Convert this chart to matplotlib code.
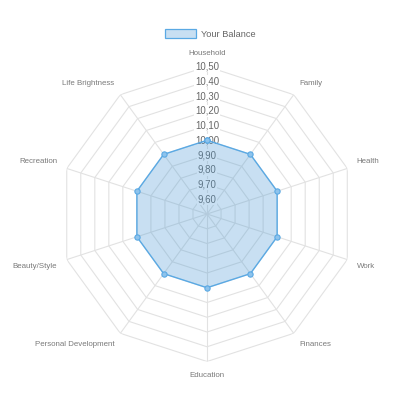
import numpy as np
import matplotlib
matplotlib.use("Agg")
import matplotlib.pyplot as plt

plt.rcParams['font.family'] = ['Liberation Sans', 'DejaVu Sans']

# data
categories = ["Household", "Family", "Health", "Work", "Finances", "Education",
              "Personal Development", "Beauty/Style", "Recreation", "Life Brightness"]
values = [10, 10, 10, 10, 10, 10, 10, 10, 10, 10]
ticks = [9.6, 9.7, 9.8, 9.9, 10.0, 10.1, 10.2, 10.3, 10.4, 10.5]
r_min, r_max = 9.5, 10.5

line_col = '#5aa9e4'
fill_col = '#4a98d4'
grid_col = '#e2e2e2'
tick_col = '#666666'
label_col = '#7a7a7a'

fig = plt.figure(figsize=(4.2, 4.16), dpi=100)
ax = fig.add_axes([0.1417, 0.131, 0.7024, 0.7091], projection='polar')
ax.set_theta_zero_location('N')
ax.set_theta_direction(-1)
ax.set_ylim(r_min, r_max)
ax.grid(False)
ax.spines['polar'].set_visible(False)
ax.set_xticks([])
ax.set_yticks([])
ax.patch.set_alpha(0)

n = len(categories)
theta = np.arange(n) * 2 * np.pi / n
theta_closed = np.append(theta, theta[0])

# polygon rings
for t in ticks:
    ax.plot(theta_closed, [t] * (n + 1), color=grid_col, lw=0.8, zorder=1)
# spokes
for th in theta:
    ax.plot([th, th], [r_min, r_max], color=grid_col, lw=0.8, zorder=1)

# tick labels on the top spoke
for t in ticks:
    ax.text(0, t, f"{t:.2f}".replace('.', ','), ha='center', va='center',
            fontsize=6.9, color=tick_col, zorder=2,
            bbox=dict(boxstyle='square,pad=0.1', fc='white', ec='none'))

# point labels
lab_r = r_max + (r_max - r_min) * 10 / 147.5
for th, name in zip(theta, categories):
    s, c = np.sin(th), np.cos(th)
    if abs(s) < 1e-6:
        ha = 'center'
    elif s > 0:
        ha = 'left'
    else:
        ha = 'right'
    va = 'bottom' if c > 0 else 'top'
    ax.text(th, lab_r, name, ha=ha, va=va, fontsize=5.7, color=label_col)

# data
vals_closed = values + values[:1]
ax.fill(theta_closed, vals_closed, color=fill_col, alpha=0.3, lw=0, zorder=3)
ax.plot(theta_closed, vals_closed, color=line_col, lw=1.0, zorder=4,
        marker='o', markersize=3.8, markerfacecolor='#8ec3ec',
        markeredgecolor=line_col, markeredgewidth=0.8)

# legend
box = plt.Rectangle((0, 0), 1, 1, fc=(0.29, 0.596, 0.831, 0.3), ec=line_col, lw=0.9)
fig.legend([box], ["Your Balance"], loc='center', bbox_to_anchor=(0.5, 0.918),
           frameon=False, fontsize=6.7, handlelength=3.4, handleheight=1.0,
           handletextpad=0.5, labelcolor=tick_col)

fig.savefig("out.png", dpi=100)
